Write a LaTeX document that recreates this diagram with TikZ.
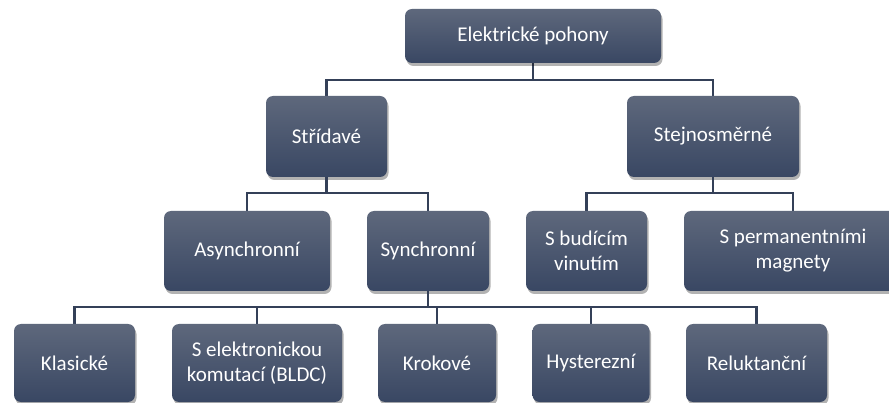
\documentclass[tikz,border=0pt]{standalone}
\usepackage{fontspec}
\setmainfont{Carlito}
\usetikzlibrary{shadows}
\definecolor{boxtop}{RGB}{94,104,124}
\definecolor{boxbot}{RGB}{57,71,99}
\definecolor{linecol}{RGB}{52,64,88}
\tikzset{
  orgbox/.style={rounded corners=7pt, top color=boxtop, bottom color=boxbot,
    draw=none, text=white, font=\fontsize{21}{25}\selectfont, align=center,
    inner sep=0pt,
    drop shadow={shadow xshift=1.5pt, shadow yshift=-3pt, opacity=0.3, fill=black}},
  conn/.style={draw=linecol, line width=2.8pt}
}
\begin{document}
\begin{tikzpicture}[x=1pt,y=-1pt]
\useasboundingbox (0,0) rectangle (889,403);
\clip (0,0) rectangle (889,403);
\fill[white] (0,0) rectangle (889,403);
\coordinate (bus1) at (0,80);
\coordinate (bus2) at (0,193);
\coordinate (bus3) at (0,307);
% connectors
\draw[conn] (533,63) coordinate (topS) -- (topS |- bus1) -| (326.5,96);
\draw[conn] (topS |- bus1) -| (713,96);
% nodes
\node[orgbox, minimum width=256pt, minimum height=54pt] (top) at (533,36) {Elektrické pohony};
\node[orgbox, minimum width=121pt, minimum height=81pt] (str) at (326.5,136.5) {Střídavé};
\node[orgbox, minimum width=172pt, minimum height=81pt] (stej) at (713,136.5) {Stejnosměrné};
\draw[conn] (str.south) -- (str.south |- bus2) -| (247,211) coordinate (asyN);
\draw[conn] (str.south |- bus2) -| (428,211) coordinate (synN);
\draw[conn] (stej.south) -- (stej.south |- bus2) -| (586.5,211) coordinate (budN);
\draw[conn] (stej.south |- bus2) -| (793,211) coordinate (permN);
\node[orgbox, minimum width=166pt, minimum height=80pt] (asy) at (247,251) {Asynchronní};
\node[orgbox, minimum width=122pt, minimum height=80pt] (syn) at (428,251) {Synchronní};
\node[orgbox, minimum width=121pt, minimum height=80pt] (bud) at (586.5,251) {S budícím\\vinutím};
\node[orgbox, minimum width=218pt, minimum height=80pt] (perm) at (793,251) {S permanentními\\magnety};
\draw[conn] (syn.south) -- (syn.south |- bus3) -| (74.5,324);
\draw[conn] (syn.south |- bus3) -| (257,324);
\draw[conn] (syn.south |- bus3) -| (437,324);
\draw[conn] (syn.south |- bus3) -| (591,324);
\draw[conn] (syn.south |- bus3) -| (756.5,324);
\node[orgbox, minimum width=121pt, minimum height=78pt] (klas) at (74.5,363) {Klasické};
\node[orgbox, minimum width=170pt, minimum height=78pt] (bldc) at (257,363) {S elektronickou\\komutací (BLDC)};
\node[orgbox, minimum width=118pt, minimum height=78pt] (krok) at (437,363) {Krokové};
\node[orgbox, minimum width=117pt, minimum height=78pt] (hyst) at (591,363) {Hysterezní};
\node[orgbox, minimum width=141pt, minimum height=78pt] (rel) at (756.5,363) {Reluktanční};
\end{tikzpicture}
\end{document}
